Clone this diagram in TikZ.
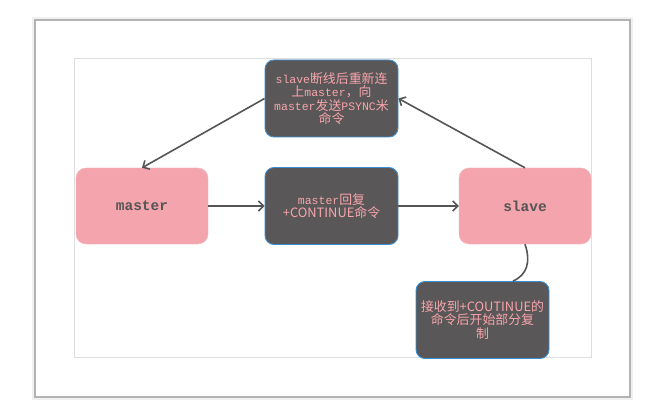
\documentclass[tikz,border=0pt]{standalone}
\usepackage{fontspec}
\usetikzlibrary{arrows.meta}
\setmonofont{Liberation Mono}
\newfontfamily\cjk[Scale=1.12]{Noto Sans CJK SC}

\definecolor{boxgray}{HTML}{595757}
\definecolor{boxblue}{HTML}{3A8FD3}
\definecolor{txtpink}{HTML}{F8A5AD}
\definecolor{nodepink}{HTML}{F4A4AC}
\definecolor{linegray}{HTML}{555555}

\tikzset{
  msgbox/.style={rectangle,rounded corners=9pt,fill=boxgray,draw=boxblue,line width=0.9pt,
    minimum width=133pt,minimum height=77pt,align=center,text=txtpink,
    font=\fontsize{11.5}{13.5}\selectfont\ttfamily,inner sep=2pt},
  hostbox/.style={rectangle,rounded corners=10pt,fill=nodepink,draw=nodepink!80!white,
    minimum width=132pt,minimum height=76pt,text=linegray,
    font=\fontsize{14.5}{16}\selectfont\ttfamily\bfseries},
  flow/.style={draw=linegray,line width=1.6pt,-{Straight Barb[length=5pt,width=10pt]}},
}

\begin{document}
\begin{tikzpicture}[x=1pt,y=-1pt]

  % frame
  \useasboundingbox (0,0) rectangle (653,406);
  \fill[black!6] (32,17) rectangle (633,400);
  \fill[white] (35,20) rectangle (630,397);
  \draw[black!30,line width=1.2pt] (35,20) rectangle (630,397);
  \draw[black!13,line width=0.6pt] (74,58) rectangle (591,357);

  \begin{scope}[every node/.style={hostbox}]
    \node (master) at (142,206) {master};
    \node (slave) at (525,206) {slave};
  \end{scope}

  \begin{scope}[every node/.style={msgbox}]
    \node (reconnect) at (331.5,98.5) {slave{\cjk 断线后重新连}\\{\cjk 上}master{\cjk ，向}\\master{\cjk 发送}PSYNC{\cjk 米}\\{\cjk 命令}};
    \node (reply) at (331.5,206) {master{\cjk 回复}\\{\cjk +CONTINUE命令}};
    \node (partial) at (482.5,320) {\cjk 接收到+COUTINUE的\\\cjk 命令后开始部分复\\\cjk 制};
  \end{scope}

  \draw[flow] (master) -- (reply);
  \draw[flow] (reply) -- (slave);
  \draw[flow] (slave.north) -- (reconnect.east);
  \draw[flow] (reconnect.west) -- (master.north);
  \draw[draw=linegray,line width=1.6pt] (slave.south) .. controls (531,262) and (527,275) .. (partial.north -| 513,0);

\end{tikzpicture}
\end{document}
